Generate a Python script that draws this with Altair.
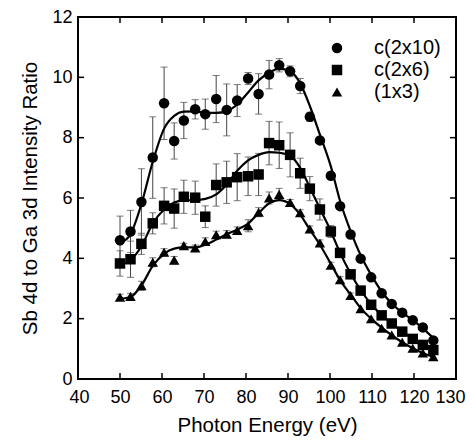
import altair as alt
import pandas as pd

# Photon energies (eV), shared by the three series
energy = [50.0, 52.5, 55.1, 57.8, 60.5, 62.9, 65.2, 67.9, 70.3, 72.9, 75.4, 77.9,
          80.5, 83.0, 85.5, 87.9, 90.5, 92.9, 95.2, 97.6, 100.2, 102.4, 104.9,
          107.3, 109.8, 112.3, 114.7, 117.2, 119.7, 122.1, 124.6]

series_names = ["c(2x10)", "c(2x6)", "(1x3)"]

c2x10 = [4.60, 4.89, 5.87, 7.34, 9.14, 7.89, 8.57, 8.94, 8.78, 9.28, 8.92, 9.23,
         9.96, 9.45, 10.09, 10.40, 10.20, 9.71, 8.69, 7.91, 6.74, 5.73, 4.79,
         3.99, 3.37, 2.84, 2.49, 2.20, 1.95, 1.71, 1.28]
c2x6 = [3.83, 3.97, 4.48, 5.16, 5.74, 5.65, 6.04, 6.01, 5.38, 6.43, 6.52, 6.69,
        6.72, 6.78, 7.82, 7.75, 7.43, 6.82, 6.31, 5.62, 4.89, 4.18, 3.47,
        2.93, 2.46, 2.11, 1.84, 1.57, 1.33, 1.13, 0.96]
s1x3 = [2.71, 2.74, 3.09, 3.87, 4.20, 3.94, 4.42, 4.34, 4.56, 4.78, 4.80, 4.92,
        5.08, 5.53, 6.00, 6.12, 5.85, 5.51, 4.97, 4.51, 3.77, 3.29, 2.77,
        2.33, 2.00, 1.68, 1.46, 1.22, 1.02, 0.86, 0.74]

# error bar half-widths (0 = not drawn)
err_c2x10 = [0.8, 0.7, 1.1, 1.35, 1.2, 0.6, 0.6, 0.32, 0.5, 0.78, 0.86, 0.53,
             0.2, 0.67, 0.47, 0.22, 0.18, 0.25, 0.15, 0, 0, 0, 0,
             0, 0, 0, 0, 0, 0, 0, 0]
err_c2x6 = [0.42, 0.6, 0.35, 0.35, 0.6, 0.65, 0.55, 0.55, 0.36, 0.7, 0.7, 0.78,
            0.64, 0.7, 0.72, 0.77, 0.73, 0.5, 0.4, 0.35, 0.2, 0.12, 0.1,
            0.08, 0, 0, 0, 0, 0, 0, 0]
err_1x3 = [0.1, 0.1, 0.15, 0.15, 0.12, 0.12, 0.08, 0.1, 0.12, 0.12, 0.12, 0.12,
           0.2, 0.15, 0.2, 0.2, 0.1, 0.1, 0.1, 0.1, 0.1, 0.1, 0.08,
           0, 0, 0, 0, 0, 0, 0, 0]

# fitted curves at the same energies
fit_c2x10 = [4.50, 4.80, 5.80, 7.20, 8.30, 8.72, 8.86, 8.87, 8.82, 8.82, 8.88, 9.10,
             9.50, 9.90, 10.15, 10.29, 10.20, 9.80, 9.05, 8.10, 7.05, 5.90, 4.90,
             4.10, 3.45, 2.90, 2.50, 2.20, 1.95, 1.68, 1.36]
fit_c2x6 = [3.80, 3.94, 4.40, 5.16, 5.62, 5.85, 5.92, 5.93, 5.97, 6.12, 6.45, 6.90,
            7.25, 7.43, 7.52, 7.50, 7.40, 7.00, 6.35, 5.65, 4.90, 4.18, 3.50,
            2.95, 2.48, 2.12, 1.84, 1.58, 1.34, 1.14, 0.96]
fit_1x3 = [2.66, 2.72, 3.10, 3.75, 4.15, 4.32, 4.36, 4.36, 4.45, 4.62, 4.80, 4.95,
           5.15, 5.50, 5.82, 5.93, 5.80, 5.45, 4.95, 4.45, 3.82, 3.28, 2.80,
           2.35, 2.00, 1.70, 1.45, 1.22, 1.02, 0.86, 0.73]

x_ticks = [50, 60, 70, 80, 90, 100, 110, 120]
y_ticks = [2, 4, 6, 8, 10]

W, H = 378, 362

pts_rows, fit_rows, err_rows = [], [], []
for name, ys, fs, es in zip(series_names, [c2x10, c2x6, s1x3],
                            [fit_c2x10, fit_c2x6, fit_1x3],
                            [err_c2x10, err_c2x6, err_1x3]):
    for e, y, f, d in zip(energy, ys, fs, es):
        pts_rows.append({"x": e, "y": y, "series": name})
        fit_rows.append({"x": e, "y": f, "series": name})
        if d > 0:
            err_rows.append({"x": e, "lo": y - d, "hi": y + d, "series": name})

pts = pd.DataFrame(pts_rows)
fits = pd.DataFrame(fit_rows)
errs = pd.DataFrame(err_rows)

xscale = alt.Scale(domain=[40, 130], nice=False, zero=False)
yscale = alt.Scale(domain=[0, 12], nice=False, zero=False)

xaxis = alt.Axis(values=list(range(40, 131, 10)), title="Photon Energy (eV)",
                 ticks=False, tickSize=0, domain=False, grid=False, labelOverlap=False,
                 labelFlush=True, labelFlushOffset=9,
                 labelPadding=9, titlePadding=9)
yaxis = alt.Axis(values=list(range(0, 13, 2)), title="Sb 4d to Ga 3d Intensity Ratio",
                 ticks=False, tickSize=0, domain=False, grid=False, labelOverlap=False,
                 labelFlush=False, labelPadding=6, titlePadding=11)

err_rule = alt.Chart(errs).mark_rule(color="#444", strokeWidth=1).encode(
    x=alt.X("x:Q", scale=xscale, axis=xaxis),
    y=alt.Y("lo:Q", scale=yscale, axis=yaxis),
    y2="hi:Q",
)
err_cap_lo = alt.Chart(errs).mark_tick(color="#444", thickness=1, size=7, orient="horizontal").encode(
    x=alt.X("x:Q", scale=xscale),
    y=alt.Y("lo:Q", scale=yscale),
)
err_cap_hi = alt.Chart(errs).mark_tick(color="#444", thickness=1, size=7, orient="horizontal").encode(
    x=alt.X("x:Q", scale=xscale),
    y=alt.Y("hi:Q", scale=yscale),
)

lines = alt.Chart(fits).mark_line(color="black", strokeWidth=2.2, interpolate="monotone").encode(
    x=alt.X("x:Q", scale=xscale),
    y=alt.Y("y:Q", scale=yscale),
    detail="series:N",
)

points = alt.Chart(pts).mark_point(filled=True, color="black", opacity=1, size=110).encode(
    x=alt.X("x:Q", scale=xscale),
    y=alt.Y("y:Q", scale=yscale),
    shape=alt.Shape("series:N",
                    scale=alt.Scale(domain=series_names,
                                    range=["circle", "square", "triangle-up"]),
                    legend=alt.Legend(title=None, orient="none", legendX=249, legendY=21,
                                      labelFontSize=20, labelFont="Liberation Sans",
                                      symbolSize=110, symbolFillColor="black",
                                      symbolStrokeColor="black", symbolStrokeWidth=0,
                                      labelOffset=27, rowPadding=2)),
)

tick_df_x = pd.DataFrame({"v": x_ticks})
tick_df_y = pd.DataFrame({"v": y_ticks})
TL = 6
tb = alt.Chart(tick_df_x).mark_rule(color="black", strokeWidth=1.5).encode(
    x=alt.X("v:Q", scale=xscale), y=alt.value(H), y2=alt.value(H - TL))
tt = alt.Chart(tick_df_x).mark_rule(color="black", strokeWidth=1.5).encode(
    x=alt.X("v:Q", scale=xscale), y=alt.value(0), y2=alt.value(TL))
tl = alt.Chart(tick_df_y).mark_rule(color="black", strokeWidth=1.5).encode(
    y=alt.Y("v:Q", scale=yscale), x=alt.value(0), x2=alt.value(TL))
tr = alt.Chart(tick_df_y).mark_rule(color="black", strokeWidth=1.5).encode(
    y=alt.Y("v:Q", scale=yscale), x=alt.value(W), x2=alt.value(W - TL))

chart = alt.layer(err_rule, err_cap_lo, err_cap_hi, lines, points, tb, tt, tl, tr).properties(
    width=W, height=H,
    padding={"left": 70, "top": 9, "right": 10, "bottom": 57},
    autosize=alt.AutoSizeParams(type="none"),
).configure_view(
    stroke="black", strokeWidth=2
).configure_axis(
    labelFont="Liberation Sans", titleFont="Liberation Sans",
    labelFontSize=18, titleFontSize=20.5, labelColor="black", titleColor="black",
    titleFontWeight="normal",
)

chart.save("out.html", embed_options={"renderer": "svg", "actions": False})
